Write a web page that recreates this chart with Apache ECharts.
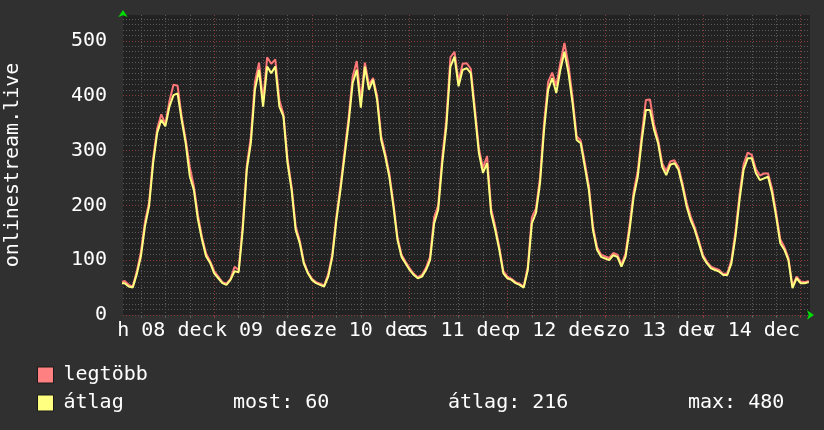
<!DOCTYPE html>
<html><head><meta charset="utf-8">
<script src="https://cdn.jsdelivr.net/npm/echarts@6/dist/echarts.min.js"></script>
<style>html,body{margin:0;padding:0;background:#303030}#c{width:824px;height:430px}</style>
</head><body><div id="c"></div>
<script>
// hours counted from Mon 08 Dec 00:00; first value is at hour 1
const firstHour = 1;
const avgValues = [
  58,58,52,50,75,107,162,198,277,332,356,344,380,401,404,356,313,253,228,174,137,107,95,76,
  67,58,55,64,80,78,155,265,314,411,447,380,453,441,453,380,362,277,228,155,131,94,76,64,
  58,55,52,70,106,173,228,289,350,423,447,378,453,411,429,392,319,289,252,198,137,106,94,82,
  73,67,70,82,100,167,192,277,344,453,471,417,447,450,441,368,295,259,277,186,155,119,76,67,
  64,58,55,50,82,167,186,240,338,411,432,405,447,480,441,386,319,313,270,228,155,119,106,103,
  100,109,106,88,106,155,216,252,319,374,374,338,313,270,255,274,277,265,234,198,173,155,131,106,
  94,85,82,79,73,73,94,143,210,265,286,286,259,246,249,252,222,179,131,119,100,49,67,58,
  58,60
];
const maxValues = [
  60,62,55,52,80,115,170,205,285,340,366,348,390,420,418,362,320,270,235,182,142,112,98,80,
  70,60,57,66,88,82,165,272,325,425,460,390,470,458,466,392,366,285,234,162,136,97,78,66,
  60,57,54,75,112,180,236,298,360,435,463,392,460,420,432,400,326,295,258,204,142,110,97,85,
  75,69,73,86,106,178,200,288,356,470,480,426,458,459,449,378,303,268,290,194,162,124,80,70,
  66,60,57,52,88,178,194,250,350,425,442,418,460,496,456,396,326,318,278,236,162,124,110,107,
  104,113,110,92,112,165,225,262,330,392,393,348,320,277,262,280,282,270,240,205,180,160,136,110,
  97,88,85,82,75,76,100,152,220,275,296,292,266,254,258,258,230,186,138,124,104,52,70,61,
  60,62
];
const dayLabels = ['h 08 dec','k 09 dec','sze 10 dec','cs 11 dec','p 12 dec','szo 13 dec','v 14 dec'];
const seriesNames = ['legtöbb','átlag'];
const statsTexts = ['most: 60','átlag: 216','max: 480'];
const yTickLabels = [0,100,200,300,400,500];
const yAxisName = 'onlinestream.live';

const FONT = 'DejaVu Sans Mono';
const xMin = 1.6, xMax = 170.3, yMax = 547;
const sixHours = [], days = [], noonsEven = [], noonsOdd = [], yMinor = [];
for (let h = 6; h <= 168; h += 6) sixHours.push(h);
for (let h = 24; h <= 168; h += 24) days.push(h);
for (let i = 0; i < dayLabels.length; i++) (i % 2 ? noonsOdd : noonsEven).push(12 + 24 * i);
for (let v = 0; v <= 540; v += 10) yMinor.push(v);

const toPairs = arr => arr.map((v, i) => [firstHour + i, v]);

const gray = '#5a5a5a', red = '#8a3a3a', green = '#00dd00';
const baseX = {type:'value', min:xMin, max:xMax, position:'bottom', gridIndex:0, axisLine:{show:false}, axisLabel:{show:false}, splitLine:{show:false}, axisTick:{show:false}};
const baseY = {type:'value', min:0, max:yMax, position:'left', gridIndex:0, axisLine:{show:false}, axisLabel:{show:false}, splitLine:{show:false}, axisTick:{show:false}};
const labelAxis = vals => Object.assign({}, baseX, {
  axisLabel:{show:true, customValues:vals, margin:6, color:'#ffffff', fontFamily:FONT, fontSize:20,
    showMinLabel:true, showMaxLabel:true, hideOverlap:false,
    formatter: v => dayLabels[Math.round((v - 12) / 24)] || ''}
});

const chart = echarts.init(document.getElementById('c'));
chart.setOption({
  backgroundColor:'#303030',
  animation:false,
  grid:{left:123, top:15, width:687, height:300, show:true, backgroundColor:'#222222', borderWidth:0,
        containLabel:false, outerBoundsMode:'none'},
  xAxis:[
    Object.assign({}, baseX, {
      axisTick:{show:true, customValues:sixHours, length:3, lineStyle:{color:gray}},
      splitLine:{show:true, lineStyle:{color:gray, type:[1,2], width:1}}
    }),
    Object.assign({}, baseX, {
      axisTick:{show:true, customValues:days, length:3, lineStyle:{color:red}},
      splitLine:{show:true, lineStyle:{color:red, type:[1,2], width:1}},
      axisLine:{show:true, symbol:['none','arrow'], symbolSize:[7,7], symbolOffset:[0,4], lineStyle:{color:green, width:0}}
    }),
    labelAxis(noonsEven),
    labelAxis(noonsOdd)
  ],
  yAxis:[
    Object.assign({}, baseY, {
      axisTick:{show:false, customValues:yMinor},
      splitLine:{show:true, lineStyle:{color:gray, type:[1,2], width:1}}
    }),
    Object.assign({}, baseY, {
      axisTick:{show:false, customValues:yTickLabels},
      axisLabel:{show:true, customValues:yTickLabels, margin:16, color:'#ffffff', fontFamily:FONT, fontSize:20},
      splitLine:{show:true, lineStyle:{color:red, type:[1,2], width:1}},
      axisLine:{show:true, symbol:['none','arrow'], symbolSize:[7,7], symbolOffset:[0,5], lineStyle:{color:green, width:0}},
      name:yAxisName, nameLocation:'middle', nameGap:100,
      nameTextStyle:{color:'#ffffff', fontFamily:FONT, fontSize:20}
    })
  ],
  legend:{
    data:seriesNames, orient:'vertical', left:32, top:360, itemWidth:16, itemHeight:16, itemGap:8,
    icon:'rect', selectedMode:false,
    itemStyle:{borderColor:'#1a1a1a', borderWidth:1},
    textStyle:{color:'#ffffff', fontFamily:FONT, fontSize:20, padding:[0,0,0,5]}
  },
  graphic:[
    {type:'text', left:233, top:393, style:{text:statsTexts[0], fill:'#ffffff', font:'20px "DejaVu Sans Mono"'}},
    {type:'text', left:448, top:393, style:{text:statsTexts[1], fill:'#ffffff', font:'20px "DejaVu Sans Mono"'}},
    {type:'text', left:688, top:393, style:{text:statsTexts[2], fill:'#ffffff', font:'20px "DejaVu Sans Mono"'}}
  ],
  series:[
    {name:seriesNames[0], type:'line', xAxisIndex:1, yAxisIndex:1, data:toPairs(maxValues),
     showSymbol:false, color:'#ff8080', lineStyle:{color:'#ff7878', width:2}, z:3},
    {name:seriesNames[1], type:'line', xAxisIndex:1, yAxisIndex:1, data:toPairs(avgValues),
     showSymbol:false, color:'#ffff80', lineStyle:{color:'#ffff80', width:2}, z:4}
  ]
});
</script>
</body></html>
